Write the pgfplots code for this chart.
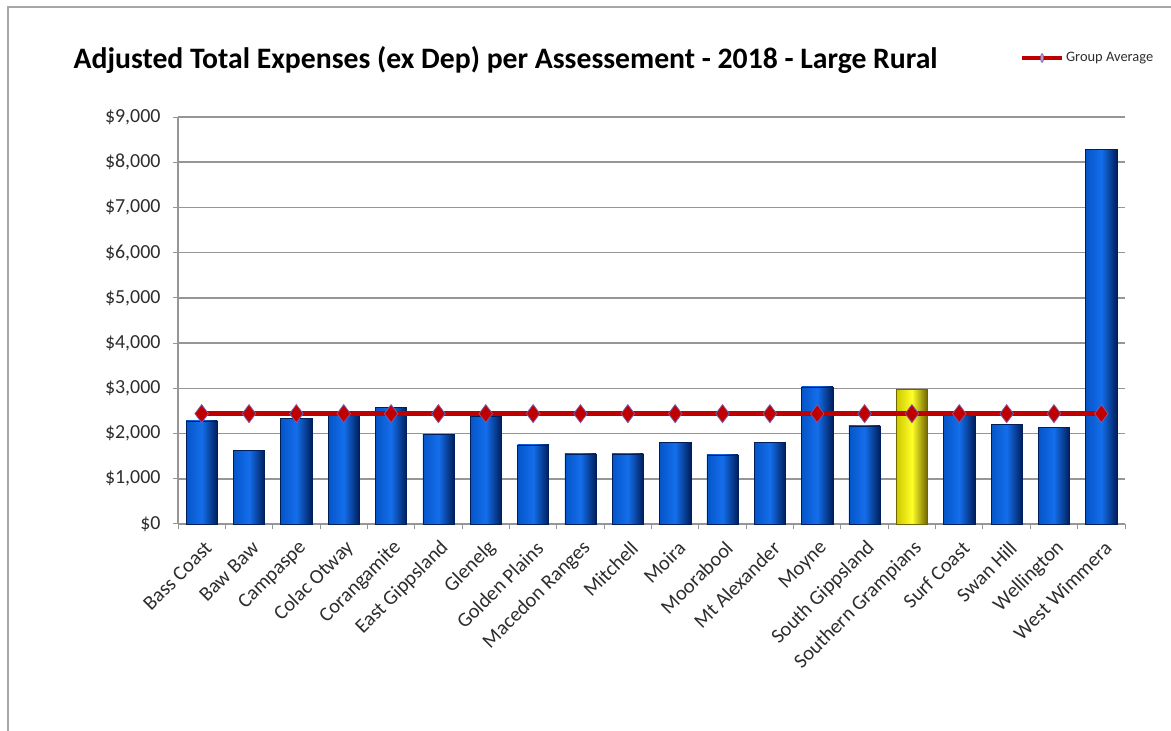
\documentclass[border=0pt]{standalone}
\usepackage{pgfplots}
\pgfplotsset{compat=1.18}
\usepackage{fontspec}
\setmainfont{Carlito}
\definecolor{barL}{RGB}{5,85,200}
\definecolor{barM}{RGB}{20,110,235}
\definecolor{barR}{RGB}{0,30,90}
\definecolor{yelL}{RGB}{205,200,0}
\definecolor{yelM}{RGB}{255,255,40}
\definecolor{yelR}{RGB}{110,100,0}
\definecolor{avgred}{RGB}{192,0,0}
\definecolor{avgedge}{RGB}{120,90,170}
\definecolor{gridgray}{RGB}{150,150,150}
\definecolor{txt}{RGB}{45,45,45}
\pgfplotsset{
  bluebar/.style={ybar, bar shift=0pt, draw=barR, line width=0.6bp, left color=barL, right color=barR, middle color=barM, forget plot},
  yelbar/.style={ybar, bar shift=0pt, draw=yelR, line width=0.6bp, left color=yelL, right color=yelR, middle color=yelM, forget plot},
}
\begin{document}
\begin{tikzpicture}
\useasboundingbox (0,0) rectangle (1171bp,731bp);
\draw[gray!70, line width=1.2bp] (8bp,-10bp) -- (8bp,724bp) -- (1180bp,724bp);
\begin{axis}[
  at={(178bp,207bp)}, anchor=south west,
  width=947bp, height=407bp, scale only axis,
  xmin=-0.5, xmax=19.5, ymin=0, ymax=9000,
  axis lines=left, axis line style={-, draw=gridgray, line width=1.2bp},
  ytick={0,1000,...,9000},
  scaled y ticks=false,
  /pgf/number format/.cd, 1000 sep={,}, assume math mode=true,
  /pgfplots/.cd,
  yticklabel={\$\pgfmathprintnumber{\tick}},
  yticklabel style={font=\fontsize{20}{22}\selectfont, text=txt, xshift=-9bp},
  ymajorgrids, major grid style={draw=gridgray, line width=1.5bp},
  tick align=outside, major tick length=5bp, minor tick length=5bp,
  tick style={draw=gridgray, line width=1bp},
  xtick={0,...,19},
  major x tick style={draw=none},
  minor xtick={-0.5,0.5,...,19.5},
  xticklabels={Bass Coast,Baw Baw,Campaspe,Colac Otway,Corangamite,East Gippsland,Glenelg,Golden Plains,Macedon Ranges,Mitchell,Moira,Moorabool,Mt Alexander,Moyne,South Gippsland,Southern Grampians,Surf Coast,Swan Hill,Wellington,West Wimmera},
  xticklabel style={rotate=45, anchor=east, font=\fontsize{20.5}{22}\selectfont, text=txt, xshift=-3bp, yshift=-16bp},
  bar width=0.66,
  title={\textbf{Adjusted Total Expenses (ex Dep) per Assessement - 2018 - Large Rural}},
  title style={at={(0.346,1.125)}, anchor=center, font=\fontsize{29.8}{32}\selectfont},
  legend style={at={(0.889,1.145)}, anchor=west, draw=none, fill=none, font=\fontsize{14.5}{16}\selectfont, text=txt, inner sep=0pt},
  legend cell align=left,
  clip=false,
]
\addplot[bluebar] coordinates {(0,2280)};
\addplot[bluebar] coordinates {(1,1630)};
\addplot[bluebar] coordinates {(2,2330)};
\addplot[bluebar] coordinates {(3,2400)};
\addplot[bluebar] coordinates {(4,2580)};
\addplot[bluebar] coordinates {(5,1990)};
\addplot[bluebar] coordinates {(6,2380)};
\addplot[bluebar] coordinates {(7,1750)};
\addplot[bluebar] coordinates {(8,1550)};
\addplot[bluebar] coordinates {(9,1550)};
\addplot[bluebar] coordinates {(10,1810)};
\addplot[bluebar] coordinates {(11,1530)};
\addplot[bluebar] coordinates {(12,1810)};
\addplot[bluebar] coordinates {(13,3030)};
\addplot[bluebar] coordinates {(14,2170)};
\addplot[yelbar] coordinates {(15,2970)};
\addplot[bluebar] coordinates {(16,2400)};
\addplot[bluebar] coordinates {(17,2200)};
\addplot[bluebar] coordinates {(18,2140)};
\addplot[bluebar] coordinates {(19,8290)};
\addplot[avgred, line width=4.5bp, mark=diamond*, mark size=9bp, mark options={fill=avgred, draw=avgedge, line width=0.8bp},
  legend image code/.code={
    \draw[avgred, line width=4bp] (0bp,0bp) -- (40bp,0bp);
    \draw[avgedge, fill=avgedge!60, line width=0.6bp] (20bp,0bp) ellipse (1.5bp and 4.5bp);
  }] coordinates {
(0,2440) (1,2440) (2,2440) (3,2440) (4,2440) (5,2440) (6,2440) (7,2440) (8,2440) (9,2440)
(10,2440) (11,2440) (12,2440) (13,2440) (14,2440) (15,2440) (16,2440) (17,2440) (18,2440) (19,2440)};
\addlegendentry{Group Average}
\end{axis}
\end{tikzpicture}
\end{document}
